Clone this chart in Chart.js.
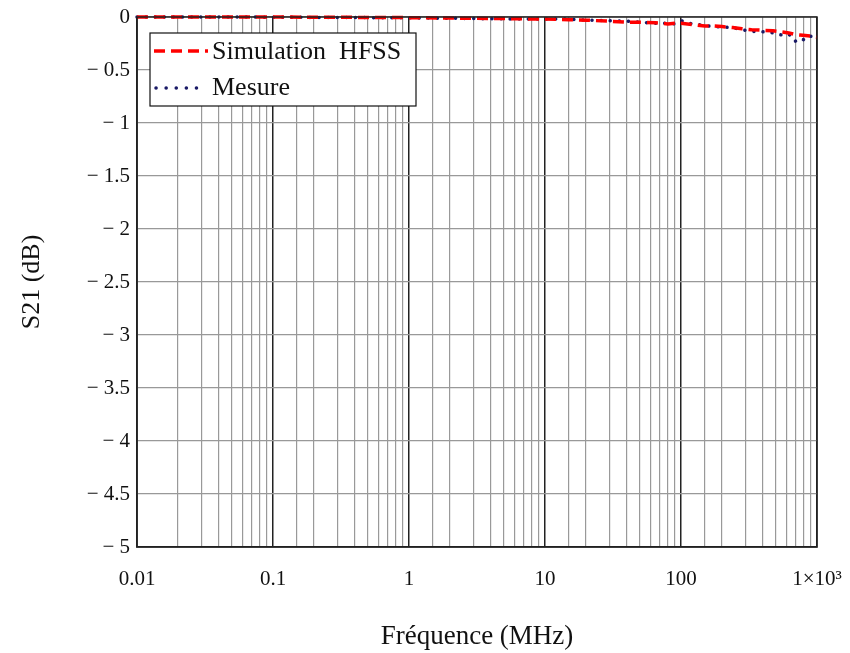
<!DOCTYPE html>
<html>
<head>
<meta charset="utf-8">
<script src="https://cdn.jsdelivr.net/npm/chart.js@4"></script>
<style>
  html, body { margin: 0; padding: 0; background: #fff; }
  #wrap { width: 850px; height: 653px; }
</style>
</head>
<body>
<div id="wrap"><canvas id="chart" width="850" height="653"></canvas></div>
<script>
// frequency points (MHz)
const freq = [0.01, 0.02, 0.05, 0.1, 0.2, 0.5, 1, 2, 5, 10, 15, 20, 30, 40, 50, 65, 80, 90, 100,
              120, 150, 175, 200, 240, 280, 330, 400, 475, 550, 620, 690, 750, 820, 890, 1000];
// S21 simulated (dB)
const simHFSS = [0, 0, 0, 0, -0.002, -0.004, -0.006, -0.01, -0.015, -0.02, -0.025, -0.03, -0.04, -0.05, -0.05, -0.055, -0.065, -0.06, -0.06,
                 -0.07, -0.085, -0.085, -0.09, -0.1, -0.11, -0.12, -0.125, -0.13, -0.14, -0.15, -0.165, -0.17, -0.175, -0.18, -0.19];
// S21 measured (dB)
const mesure = [0, 0, 0, -0.002, -0.004, -0.006, -0.008, -0.012, -0.018, -0.02, -0.02, -0.03, -0.035, -0.04, -0.05, -0.06, -0.06, -0.065, -0.035,
                -0.065, -0.08, -0.09, -0.095, -0.1, -0.12, -0.135, -0.14, -0.15, -0.17, -0.16, -0.23, -0.2, -0.22, -0.18, -0.19];
const decades = [0.01, 0.1, 1, 10, 100, 1000];
const xLabels = ["0.01", "0.1", "1", "10", "100", "1×10³"];

const serif = "'Liberation Serif', 'DejaVu Serif', serif";

// legend box drawn inside the plot, like the original
const legendBox = {
  id: "legendBox",
  afterDraw(chart) {
    const c = chart.ctx;
    const x = 150, y = 33, w = 266, h = 73;
    c.save();
    c.fillStyle = "#fff";
    c.fillRect(x, y, w, h);
    c.strokeStyle = "#111";
    c.lineWidth = 1.2;
    c.strokeRect(x, y, w, h);
    // red dashed sample
    c.strokeStyle = "#ff0000";
    c.lineWidth = 3.5;
    c.setLineDash([11, 6]);
    c.beginPath(); c.moveTo(154, 51); c.lineTo(208, 51); c.stroke();
    // navy dotted sample
    c.strokeStyle = "#1a1a66";
    c.lineWidth = 3.5;
    c.lineCap = "round";
    c.setLineDash([0.1, 10]);
    c.beginPath(); c.moveTo(156, 88); c.lineTo(206, 88); c.stroke();
    c.setLineDash([]);
    c.fillStyle = "#111";
    c.font = "26px " + serif;
    c.textBaseline = "middle";
    c.fillText("Simulation  HFSS", 212, 52);
    c.fillText("Mesure", 212, 88);
    c.restore();
  }
};

new Chart(document.getElementById("chart"), {
  type: "line",
  data: {
    datasets: [
      {
        label: "Simulation  HFSS",
        data: freq.map((f, i) => ({ x: f, y: simHFSS[i] })),
        borderColor: "#ff0000",
        borderWidth: 3.5,
        borderDash: [11, 6],
        pointRadius: 0,
        tension: 0,
        clip: 6
      },
      {
        label: "Mesure",
        data: freq.map((f, i) => ({ x: f, y: mesure[i] })),
        borderColor: "#1a1a66",
        borderWidth: 3.5,
        borderDash: [0.1, 9],
        borderCapStyle: "round",
        pointRadius: 0,
        tension: 0,
        clip: 6
      }
    ]
  },
  options: {
    responsive: false,
    animation: false,
    layout: { padding: { top: 17, right: 33, left: 0, bottom: 0 } },
    plugins: {
      legend: { display: false },
      tooltip: { enabled: false }
    },
    scales: {
      x: {
        type: "logarithmic",
        min: 0.01,
        max: 1000,
        border: { display: true, color: "#222", width: 1.5 },
        grid: {
          drawTicks: false,
          color: ctx => decades.includes(ctx.tick && ctx.tick.value) ? "#222" : "#999",
          lineWidth: ctx => decades.includes(ctx.tick && ctx.tick.value) ? 1.5 : 1.2
        },
        ticks: {
          autoSkip: false,
          maxRotation: 0,
          padding: 20,
          color: "#111",
          font: { family: serif, size: 21 },
          callback: v => {
            const i = decades.indexOf(v);
            return i >= 0 ? xLabels[i] : "";
          }
        },
        title: {
          display: true,
          text: "Fréquence (MHz)",
          color: "#111",
          font: { family: serif, size: 27 },
          padding: { top: 20, bottom: 0 }
        },
        afterFit: s => { s.height = 106; s.paddingLeft = 0; s.paddingRight = 0; }
      },
      y: {
        min: -5,
        max: 0,
        border: { display: true, color: "#222", width: 1.5 },
        grid: { drawTicks: false, color: "#999", lineWidth: 1.2 },
        ticks: {
          stepSize: 0.5,
          padding: 7,
          color: "#111",
          font: { family: serif, size: 21 },
          callback: v => v === 0 ? "0" : "\u2212 " + Math.abs(v)
        },
        title: {
          display: true,
          text: "S21 (dB)",
          color: "#111",
          font: { family: serif, size: 26 },
          padding: { top: 17, bottom: 0 }
        },
        afterFit: s => { s.width = 137; s.paddingTop = 0; s.paddingBottom = 0; }
      }
    }
  },
  plugins: [legendBox,
    {
      id: "frame",
      afterDatasetsDraw(chart) {
        const a = chart.chartArea, c = chart.ctx;
        c.save();
        c.strokeStyle = "#222";
        c.lineWidth = 1.5;
        c.strokeRect(a.left, a.top, a.right - a.left, a.bottom - a.top);
        c.restore();
      }
    }]
});
</script>
</body>
</html>
